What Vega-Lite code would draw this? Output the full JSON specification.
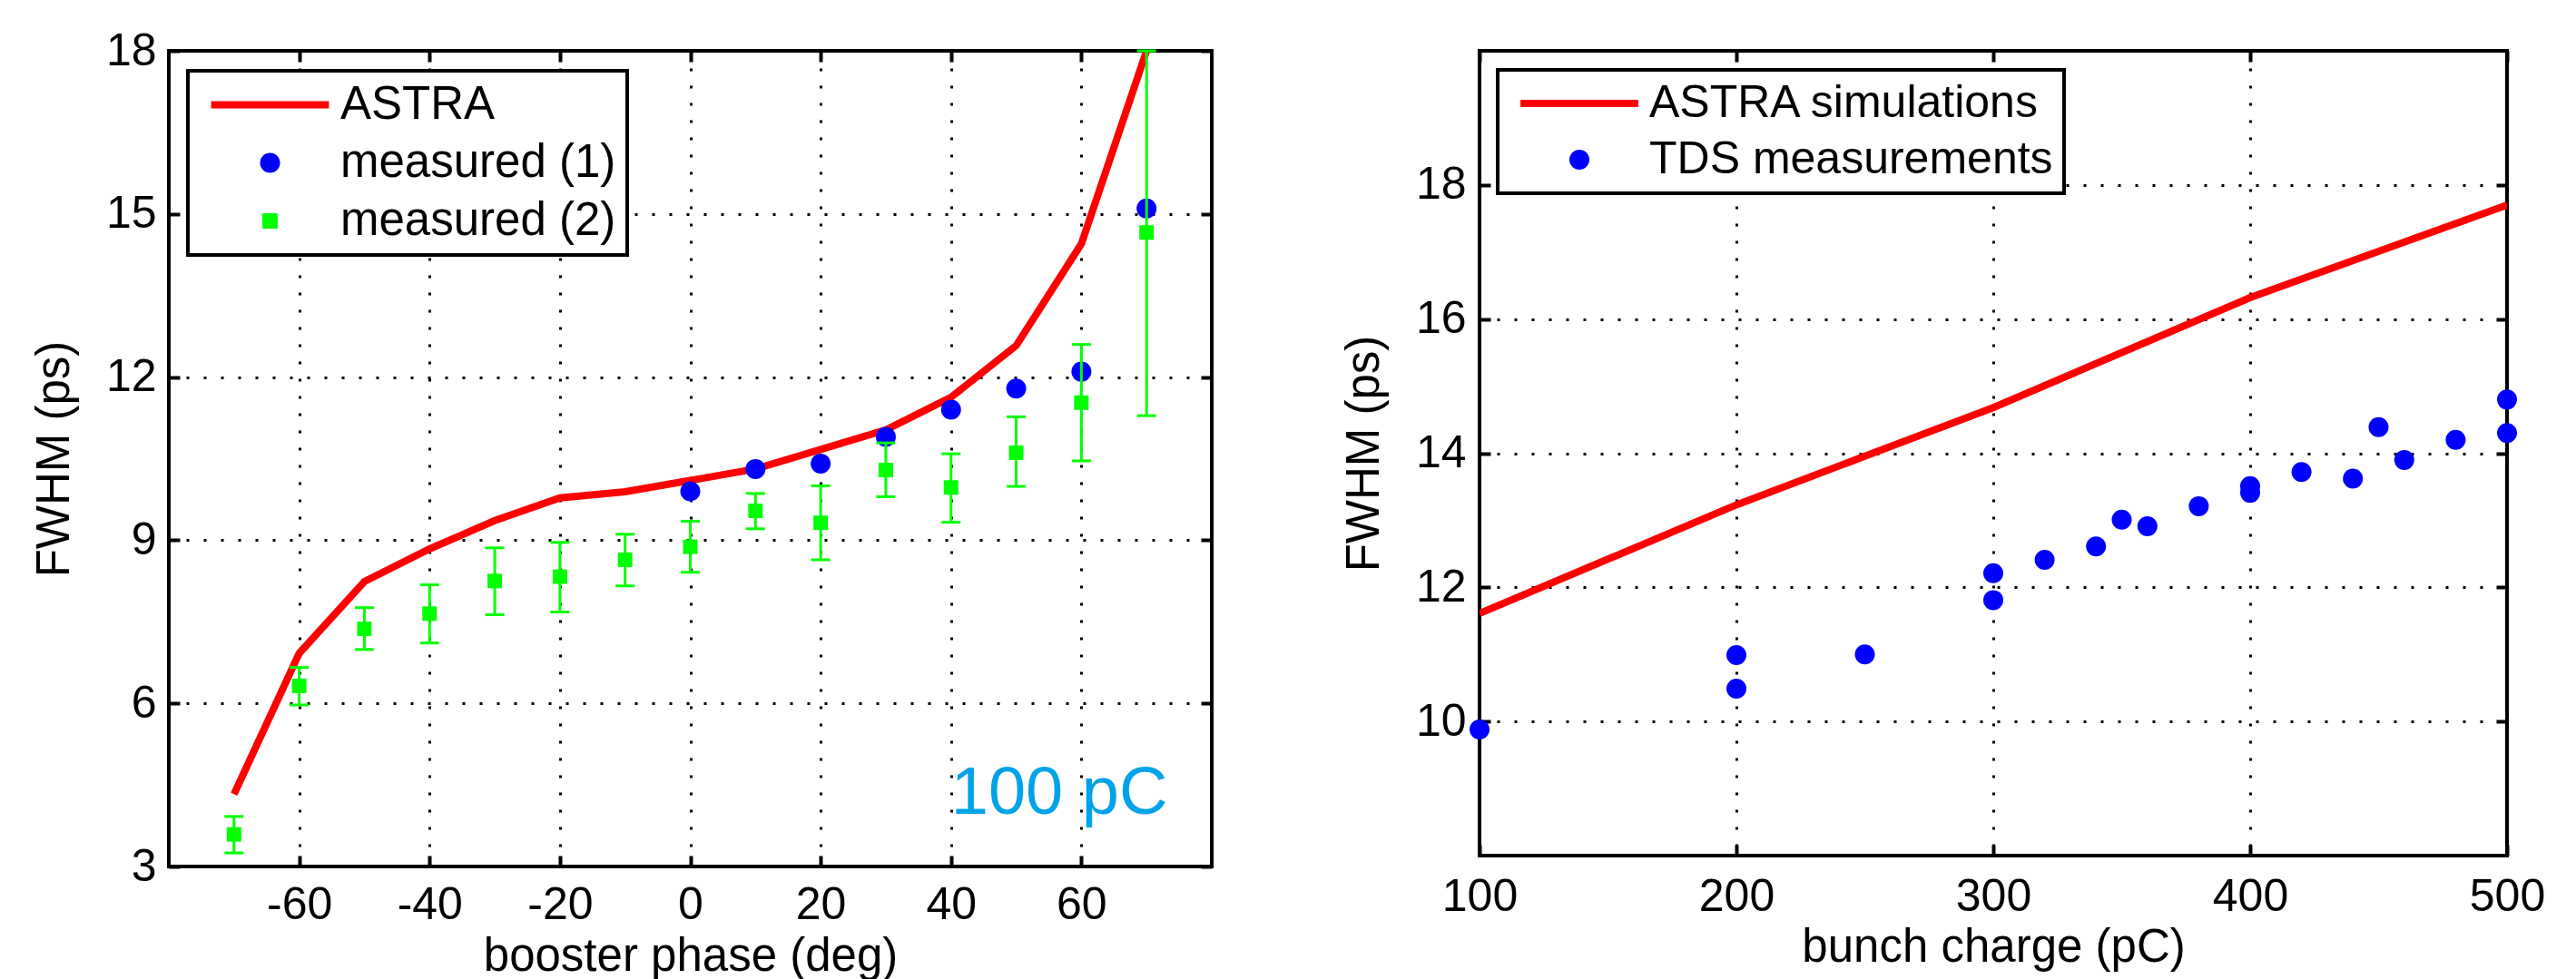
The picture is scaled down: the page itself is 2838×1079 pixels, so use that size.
{
  "$schema": "https://vega.github.io/schema/vega-lite/v6.json",
  "background": "white",
  "padding": {"left": 32, "top": 29, "right": 0, "bottom": 0},
  "bounds": "flush",
  "spacing": 295,
  "config": {
    "font": "Liberation Sans",
    "view": {"stroke": "black", "strokeWidth": 4},
    "axis": {
      "labelFont": "Liberation Sans", "titleFont": "Liberation Sans",
      "labelFontSize": 50, "titleFontSize": 51, "titleFontWeight": "normal",
      "labelColor": "black", "titleColor": "black",
      "tickColor": "black", "tickWidth": 4, "tickSize": -12,
      "domain": false, "labelFlush": false, "labelOverlap": false,
      "gridColor": "black", "gridDash": [3, 16], "gridWidth": 3, "gridOpacity": 1
    }
  },
  "resolve": {"scale": {"color": "independent"}, "legend": {"color": "independent"}},
  "datasets": {
    "astra1": [
      {"phase": -70, "fwhm": 4.33, "series": "ASTRA"},
      {"phase": -60, "fwhm": 6.92, "series": "ASTRA"},
      {"phase": -50, "fwhm": 8.24, "series": "ASTRA"},
      {"phase": -40, "fwhm": 8.84, "series": "ASTRA"},
      {"phase": -30, "fwhm": 9.36, "series": "ASTRA"},
      {"phase": -20, "fwhm": 9.78, "series": "ASTRA"},
      {"phase": -10, "fwhm": 9.89, "series": "ASTRA"},
      {"phase": 0, "fwhm": 10.1, "series": "ASTRA"},
      {"phase": 10, "fwhm": 10.31, "series": "ASTRA"},
      {"phase": 20, "fwhm": 10.67, "series": "ASTRA"},
      {"phase": 30, "fwhm": 11.03, "series": "ASTRA"},
      {"phase": 40, "fwhm": 11.63, "series": "ASTRA"},
      {"phase": 50, "fwhm": 12.58, "series": "ASTRA"},
      {"phase": 60, "fwhm": 14.45, "series": "ASTRA"},
      {"phase": 70, "fwhm": 18.0, "series": "ASTRA"}
    ],
    "m1": [
      {"phase": 0, "fwhm": 9.9, "series": "measured (1)"},
      {"phase": 10, "fwhm": 10.31, "series": "measured (1)"},
      {"phase": 20, "fwhm": 10.41, "series": "measured (1)"},
      {"phase": 30, "fwhm": 10.9, "series": "measured (1)"},
      {"phase": 40, "fwhm": 11.4, "series": "measured (1)"},
      {"phase": 50, "fwhm": 11.79, "series": "measured (1)"},
      {"phase": 60, "fwhm": 12.1, "series": "measured (1)"},
      {"phase": 70, "fwhm": 15.1, "series": "measured (1)"}
    ],
    "m2": [
      {"phase": -70, "fwhm": 3.59, "lo": 3.25, "hi": 3.92, "series": "measured (2)"},
      {"phase": -60, "fwhm": 6.32, "lo": 5.97, "hi": 6.66, "series": "measured (2)"},
      {"phase": -50, "fwhm": 7.37, "lo": 6.99, "hi": 7.76, "series": "measured (2)"},
      {"phase": -40, "fwhm": 7.65, "lo": 7.11, "hi": 8.18, "series": "measured (2)"},
      {"phase": -30, "fwhm": 8.25, "lo": 7.63, "hi": 8.86, "series": "measured (2)"},
      {"phase": -20, "fwhm": 8.33, "lo": 7.68, "hi": 8.96, "series": "measured (2)"},
      {"phase": -10, "fwhm": 8.64, "lo": 8.16, "hi": 9.11, "series": "measured (2)"},
      {"phase": 0, "fwhm": 8.88, "lo": 8.41, "hi": 9.35, "series": "measured (2)"},
      {"phase": 10, "fwhm": 9.54, "lo": 9.21, "hi": 9.86, "series": "measured (2)"},
      {"phase": 20, "fwhm": 9.32, "lo": 8.64, "hi": 10.0, "series": "measured (2)"},
      {"phase": 30, "fwhm": 10.29, "lo": 9.8, "hi": 10.79, "series": "measured (2)"},
      {"phase": 40, "fwhm": 9.97, "lo": 9.33, "hi": 10.59, "series": "measured (2)"},
      {"phase": 50, "fwhm": 10.61, "lo": 9.99, "hi": 11.27, "series": "measured (2)"},
      {"phase": 60, "fwhm": 11.53, "lo": 10.46, "hi": 12.6, "series": "measured (2)"},
      {"phase": 70, "fwhm": 14.66, "lo": 11.29, "hi": 18.0, "series": "measured (2)"}
    ],
    "astra2": [
      {"charge": 100, "fwhm": 11.61, "series": "ASTRA simulations"},
      {"charge": 200, "fwhm": 13.23, "series": "ASTRA simulations"},
      {"charge": 300, "fwhm": 14.68, "series": "ASTRA simulations"},
      {"charge": 400, "fwhm": 16.32, "series": "ASTRA simulations"},
      {"charge": 500, "fwhm": 17.7, "series": "ASTRA simulations"}
    ],
    "tds": [
      {"charge": 100, "fwhm": 9.88, "series": "TDS measurements"},
      {"charge": 200, "fwhm": 10.99, "series": "TDS measurements"},
      {"charge": 200, "fwhm": 10.49, "series": "TDS measurements"},
      {"charge": 250, "fwhm": 11.0, "series": "TDS measurements"},
      {"charge": 300, "fwhm": 12.21, "series": "TDS measurements"},
      {"charge": 300, "fwhm": 11.81, "series": "TDS measurements"},
      {"charge": 320, "fwhm": 12.41, "series": "TDS measurements"},
      {"charge": 340, "fwhm": 12.61, "series": "TDS measurements"},
      {"charge": 350, "fwhm": 13.01, "series": "TDS measurements"},
      {"charge": 360, "fwhm": 12.91, "series": "TDS measurements"},
      {"charge": 380, "fwhm": 13.21, "series": "TDS measurements"},
      {"charge": 400, "fwhm": 13.51, "series": "TDS measurements"},
      {"charge": 400, "fwhm": 13.41, "series": "TDS measurements"},
      {"charge": 420, "fwhm": 13.72, "series": "TDS measurements"},
      {"charge": 440, "fwhm": 13.62, "series": "TDS measurements"},
      {"charge": 450, "fwhm": 14.39, "series": "TDS measurements"},
      {"charge": 460, "fwhm": 13.9, "series": "TDS measurements"},
      {"charge": 480, "fwhm": 14.2, "series": "TDS measurements"},
      {"charge": 500, "fwhm": 14.8, "series": "TDS measurements"},
      {"charge": 500, "fwhm": 14.3, "series": "TDS measurements"}
    ]
  },
  "hconcat": [
    {
      "width": 1149,
      "height": 899,
      "resolve": {"axis": {"x": "independent", "y": "independent"}},
      "layer": [
        {
          "data": {"name": "astra1"},
          "mark": {"type": "line", "strokeWidth": 8, "clip": true},
          "encoding": {
            "x": {"field": "phase", "type": "quantitative",
              "scale": {"domain": [-80, 80], "nice": false, "zero": false},
              "axis": {"orient": "bottom", "values": [-60, -40, -20, 0, 20, 40, 60], "grid": true,
                "title": "booster phase (deg)", "labelPadding": 29, "titlePadding": 7,
                "labelExpr": "'' + datum.value"}},
            "y": {"field": "fwhm", "type": "quantitative",
              "scale": {"domain": [3, 18], "nice": false, "zero": false},
              "axis": {"orient": "left", "values": [3, 6, 9, 12, 15, 18], "grid": true,
                "title": "FWHM (ps)", "labelPadding": 26, "titlePadding": 30}},
            "color": {"field": "series", "type": "nominal",
              "scale": {"domain": ["ASTRA", "measured (1)", "measured (2)"], "range": ["#ff0000", "#0000ff", "#00ff00"]},
              "legend": {
                "orient": "none", "legendX": 21, "legendY": 22, "title": null, "direction": "vertical",
                "padding": 12, "strokeColor": "black", "fillColor": "white", "cornerRadius": 0,
                "labelFontSize": 51, "labelFont": "Liberation Sans", "labelColor": "black", "labelLimit": 2000,
                "labelOffset": 52, "symbolOffset": 53, "symbolSize": 484, "symbolStrokeWidth": 0, "rowPadding": 12,
                "encode": {
                  "legend": {"update": {"stroke": {"value": "black"}, "strokeWidth": {"value": 4}}},
                  "symbols": {"update": {
                    "shape": {"signal": "datum.value === 'ASTRA' ? 'M-5.9,-0.36H5.9V0.36H-5.9Z' : datum.value === 'measured (1)' ? 'circle' : 'M-0.77,-0.77H0.77V0.77H-0.77Z'"},
                    "fill": {"signal": "datum.value === 'ASTRA' ? '#ff0000' : datum.value === 'measured (1)' ? '#0000ff' : '#00ff00'"},
                    "stroke": {"value": "transparent"},
                    "opacity": {"value": 1}
                  }}
                }
              }}
          }
        },
        {
          "data": {"name": "m1"},
          "mark": {"type": "point", "shape": "circle", "filled": true, "size": 484, "opacity": 1},
          "encoding": {
            "x": {"field": "phase", "type": "quantitative",
              "scale": {"domain": [-80, 80], "nice": false, "zero": false},
              "axis": {"orient": "top", "values": [-60, -40, -20, 0, 20, 40, 60], "grid": false, "labels": false, "title": null}},
            "y": {"field": "fwhm", "type": "quantitative",
              "scale": {"domain": [3, 18], "nice": false, "zero": false},
              "axis": {"orient": "right", "values": [3, 6, 9, 12, 15, 18], "grid": false, "labels": false, "title": null}},
            "color": {"field": "series", "type": "nominal",
              "scale": {"domain": ["ASTRA", "measured (1)", "measured (2)"], "range": ["#ff0000", "#0000ff", "#00ff00"]}}
          }
        },
        {
          "data": {"name": "m2"},
          "mark": {"type": "rule", "color": "#00ff00", "strokeWidth": 3, "clip": true},
          "encoding": {
            "x": {"field": "phase", "type": "quantitative", "axis": null,
              "scale": {"domain": [-80, 80], "nice": false, "zero": false}},
            "y": {"field": "lo", "type": "quantitative", "axis": null,
              "scale": {"domain": [3, 18], "nice": false, "zero": false}},
            "y2": {"field": "hi"}
          }
        },
        {
          "data": {"name": "m2"},
          "mark": {"type": "tick", "orient": "horizontal", "color": "#00ff00", "size": 21, "thickness": 3, "opacity": 1},
          "encoding": {
            "x": {"field": "phase", "type": "quantitative", "axis": null,
              "scale": {"domain": [-80, 80], "nice": false, "zero": false}},
            "y": {"field": "lo", "type": "quantitative", "axis": null,
              "scale": {"domain": [3, 18], "nice": false, "zero": false}}
          }
        },
        {
          "data": {"name": "m2"},
          "mark": {"type": "tick", "orient": "horizontal", "color": "#00ff00", "size": 21, "thickness": 3, "opacity": 1},
          "encoding": {
            "x": {"field": "phase", "type": "quantitative", "axis": null,
              "scale": {"domain": [-80, 80], "nice": false, "zero": false}},
            "y": {"field": "hi", "type": "quantitative", "axis": null,
              "scale": {"domain": [3, 18], "nice": false, "zero": false}}
          }
        },
        {
          "data": {"name": "m2"},
          "mark": {"type": "point", "shape": "square", "filled": true, "size": 256, "opacity": 1},
          "encoding": {
            "x": {"field": "phase", "type": "quantitative", "axis": null,
              "scale": {"domain": [-80, 80], "nice": false, "zero": false}},
            "y": {"field": "fwhm", "type": "quantitative", "axis": null,
              "scale": {"domain": [3, 18], "nice": false, "zero": false}},
            "color": {"field": "series", "type": "nominal",
              "scale": {"domain": ["ASTRA", "measured (1)", "measured (2)"], "range": ["#ff0000", "#0000ff", "#00ff00"]}}
          }
        },
        {
          "data": {"values": [{"note": "100 pC"}]},
          "mark": {"type": "text", "align": "left", "baseline": "alphabetic", "fontSize": 74, "color": "#00a3e8", "font": "Liberation Sans"},
          "encoding": {
            "x": {"datum": 40, "type": "quantitative", "axis": null,
              "scale": {"domain": [-80, 80], "nice": false, "zero": false}},
            "y": {"datum": 3.97, "type": "quantitative", "axis": null,
              "scale": {"domain": [3, 18], "nice": false, "zero": false}},
            "text": {"field": "note"}
          }
        }
      ]
    },
    {
      "width": 1132,
      "height": 887,
      "resolve": {"axis": {"x": "independent", "y": "independent"}},
      "layer": [
        {
          "data": {"name": "astra2"},
          "mark": {"type": "line", "strokeWidth": 8, "clip": true},
          "encoding": {
            "x": {"field": "charge", "type": "quantitative",
              "scale": {"domain": [100, 500], "nice": false, "zero": false},
              "axis": {"orient": "bottom", "values": [100, 200, 300, 400, 500], "grid": true,
                "title": "bunch charge (pC)", "labelPadding": 32, "titlePadding": 6}},
            "y": {"field": "fwhm", "type": "quantitative",
              "scale": {"domain": [8, 20], "nice": false, "zero": false},
              "axis": {"orient": "left", "values": [10, 12, 14, 16, 18], "grid": true,
                "title": "FWHM (ps)", "labelPadding": 27, "titlePadding": 30}},
            "color": {"field": "series", "type": "nominal",
              "scale": {"domain": ["ASTRA simulations", "TDS measurements"], "range": ["#ff0000", "#0000ff"]},
              "legend": {
                "orient": "none", "legendX": 20, "legendY": 21, "title": null, "direction": "vertical",
                "padding": 12, "strokeColor": "black", "fillColor": "white", "cornerRadius": 0,
                "labelFontSize": 50, "labelFont": "Liberation Sans", "labelColor": "black", "labelLimit": 2000,
                "labelOffset": 52, "symbolOffset": 53, "symbolSize": 484, "symbolStrokeWidth": 0, "rowPadding": 12,
                "encode": {
                  "legend": {"update": {"stroke": {"value": "black"}, "strokeWidth": {"value": 4}}},
                  "symbols": {"update": {
                    "shape": {"signal": "datum.value === 'ASTRA simulations' ? 'M-5.9,-0.36H5.9V0.36H-5.9Z' : 'circle'"},
                    "fill": {"signal": "datum.value === 'ASTRA simulations' ? '#ff0000' : '#0000ff'"},
                    "stroke": {"value": "transparent"},
                    "opacity": {"value": 1}
                  }}
                }
              }}
          }
        },
        {
          "data": {"name": "tds"},
          "mark": {"type": "point", "shape": "circle", "filled": true, "size": 484, "opacity": 1},
          "encoding": {
            "x": {"field": "charge", "type": "quantitative",
              "scale": {"domain": [100, 500], "nice": false, "zero": false},
              "axis": {"orient": "top", "values": [100, 200, 300, 400, 500], "grid": false, "labels": false, "title": null}},
            "y": {"field": "fwhm", "type": "quantitative",
              "scale": {"domain": [8, 20], "nice": false, "zero": false},
              "axis": {"orient": "right", "values": [10, 12, 14, 16, 18], "grid": false, "labels": false, "title": null}},
            "color": {"field": "series", "type": "nominal",
              "scale": {"domain": ["ASTRA simulations", "TDS measurements"], "range": ["#ff0000", "#0000ff"]}}
          }
        }
      ]
    }
  ]
}
